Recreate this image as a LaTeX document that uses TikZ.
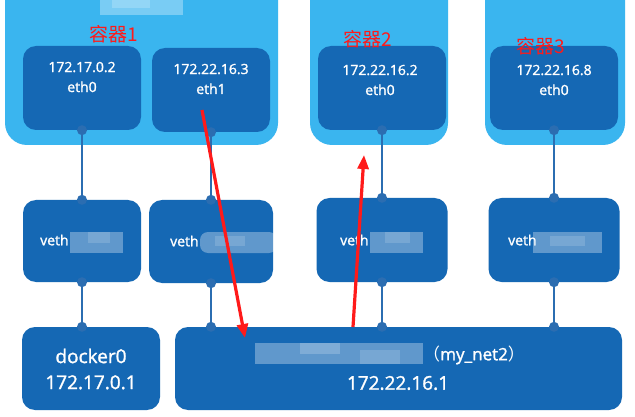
\documentclass[tikz,border=0pt]{standalone}
\usepackage{fontspec}
\setmainfont{Open Sans}
\newfontfamily\wfont{Open Sans}[FakeBold=1.5]
\newfontfamily\cjk{Noto Sans CJK SC}
\usetikzlibrary{arrows.meta,calc}
\definecolor{cont}{HTML}{3AB5EF}
\definecolor{boxc}{HTML}{1568B4}
\definecolor{wire}{HTML}{2B6DB1}
\definecolor{redmark}{HTML}{FF1A1A}
\begin{document}
\begin{tikzpicture}[x=1pt,y=-1pt,
  container/.style={fill=cont, rounded corners=22pt, inner sep=0pt, draw=none},
  ifbox/.style={fill=boxc, rounded corners=13pt, inner sep=0pt, draw=none},
  toplbl/.style={text=white, align=center, font=\wfont\fontsize{14}{20}\selectfont},
  botlbl/.style={text=white, align=center, font=\wfont\fontsize{19}{26}\selectfont},
  vlbl/.style={text=white, anchor=west, inner sep=0pt, font=\wfont\fontsize{14}{16}\selectfont},
  redlbl/.style={text=redmark, inner sep=0pt, font=\cjk\fontsize{19}{20}\selectfont},
  wireline/.style={draw=wire, line width=1.6pt},
  blur/.style={fill=white, opacity=0.32},
  redarrow/.style={draw=redmark, line width=3.2pt, -{Triangle[length=14pt,width=11pt]}}
]
\useasboundingbox (0,0) rectangle (635,417);
\clip (0,0) rectangle (635,417);
\fill[white] (0,0) rectangle (635,417);

% containers
\node[container, minimum width=273pt, minimum height=175pt] (C1) at (141.5,57.5) {};
\node[container, minimum width=138pt, minimum height=175pt] (C2) at (379,57.5) {};
\node[container, minimum width=140pt, minimum height=175pt] (C3) at (555,57.5) {};

% top blurred title patch
\fill[blur] (100,0) rectangle (183,15);
\fill[white, opacity=0.2] (112,0) rectangle (150,8);

% interface boxes
\node[ifbox, minimum width=118pt, minimum height=84pt] (E1) at (82,88) {};
\node[ifbox, minimum width=118pt, minimum height=84pt] (E2) at (211,90) {};
\node[ifbox, minimum width=128pt, minimum height=84pt] (E3) at (382,88) {};
\node[ifbox, minimum width=128pt, minimum height=84pt] (E4) at (554,88) {};

\node[toplbl] (E1t) at (82,77) {172.17.0.2\\eth0};
\node[toplbl] (E2t) at (211,79) {172.22.16.3\\eth1};
\node[toplbl] (E3t) at (380,80) {172.22.16.2\\eth0};
\node[toplbl] (E4t) at (554,80) {172.22.16.8\\eth0};

% red labels
\node[redlbl] (L1) at (114,34) {容器1};
\node[redlbl] (L2) at (368,39) {容器2};
\node[redlbl] (L3) at (541,46) {容器3};

% veth boxes
\node[ifbox, minimum width=118pt, minimum height=82pt] (V1) at (82,241) {};
\node[ifbox, minimum width=124pt, minimum height=83pt] (V2) at (211,241.5) {};
\node[ifbox, minimum width=131pt, minimum height=84pt] (V3) at (382,240) {};
\node[ifbox, minimum width=131pt, minimum height=84pt] (V4) at (554,240) {};

\node[vlbl] (V1t) at (40,240) {veth};
\node[vlbl] (V2t) at (170,241) {veth};
\node[vlbl] (V3t) at (340,240) {veth};
\node[vlbl] (V4t) at (508,240) {veth};

% blurred veth suffixes
\fill[blur] (70,232) rectangle (123,253);
\fill[white, opacity=0.15] (88,232) rectangle (110,243);
\fill[blur, rounded corners=8pt] (200,232) rectangle (277,253);
\fill[white, opacity=0.15] (215,236) rectangle (245,246);
\fill[blur] (370,232) rectangle (423,253);
\fill[white, opacity=0.15] (385,232) rectangle (410,243);
\fill[blur] (533,232) rectangle (602,253);
\fill[white, opacity=0.15] (550,236) rectangle (585,246);

% bridges
\node[ifbox, minimum width=138pt, minimum height=83pt] (D0) at (91,368.5) {};
\node[ifbox, minimum width=447pt, minimum height=83pt] (BR) at (398.5,368.5) {};

\node[botlbl] (D0t) at (91,369) {docker0\\172.17.0.1};
\node[text=white, inner sep=0pt, font=\wfont\fontsize{17}{20}\selectfont, anchor=west] (BRt1) at (423,355) {{\cjk （}my\_net2{\cjk ）}};
\node[text=white, inner sep=0pt, font=\wfont\fontsize{19}{20}\selectfont] (BRt2) at (398,383) {172.22.16.1};
\fill[blur] (255,343) rectangle (423,364);
\fill[white, opacity=0.2] (300,343) rectangle (340,354);
\fill[white, opacity=0.15] (360,350) rectangle (400,364);

% connectors
\draw[wireline] (E1.south) -- (V1.north);
\draw[wireline] (V1.south) -- (V1.south |- D0.north);
\draw[wireline] (E2.south) -- (V2.north);
\draw[wireline] (V2.south) -- (V2.south |- BR.north);
\draw[wireline] (E3.south) -- (V3.north);
\draw[wireline] (V3.south) -- (V3.south |- BR.north);
\draw[wireline] (E4.south) -- (V4.north);
\draw[wireline] (V4.south) -- (V4.south |- BR.north);

\foreach \n in {E1,E2,E3,E4,V1,V2,V3,V4} {
  \fill[wire] (\n.south) circle (5pt);
}
\foreach \n in {V1,V2,V3,V4} {
  \fill[wire] (\n.north) circle (5pt);
}
\fill[wire] (V1.south |- D0.north) circle (5pt);
\fill[wire] (V2.south |- BR.north) circle (5pt);
\fill[wire] (V3.south |- BR.north) circle (5pt);
\fill[wire] (V4.south |- BR.north) circle (5pt);

% red arrows
\coordinate (A1s) at (202,110);
\coordinate (A1e) at (245,338);
\coordinate (A2s) at (353,327);
\coordinate (A2e) at (364,155);
\draw[redarrow] (A1s) -- (A1e);
\draw[redarrow] (A2s) -- (A2e);
\end{tikzpicture}
\end{document}
